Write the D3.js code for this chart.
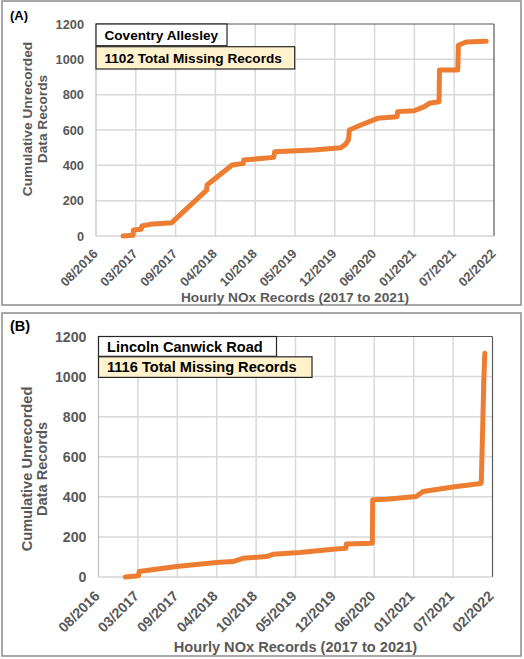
<!DOCTYPE html>
<html><head><meta charset="utf-8">
<script src="https://cdn.jsdelivr.net/npm/d3@7"></script>
<style>body{margin:0;background:#fff}svg{display:block;font-family:"Liberation Sans",Arial,sans-serif}</style>
</head><body><svg id="c" width="524" height="659"></svg>
<script>
// ---- data ----
const tickDates = ["2016-08-18","2017-03-06","2017-09-22","2018-04-10","2018-10-27","2019-05-15","2019-12-01","2020-06-18","2021-01-04","2021-07-23","2022-02-08"];
const yTicks = [0,200,400,600,800,1000,1200];
const xTitle = "Hourly NOx Records (2017 to 2021)";
const yTitleLines = ["Cumulative Unrecorded","Data Records"];

const coventryDates = ["2017-01-01","2017-02-20","2017-02-22","2017-04-03","2017-04-05","2017-05-17","2017-09-03","2017-09-20","2018-02-25","2018-02-27","2018-07-03","2018-08-28","2018-08-30","2019-01-28","2019-02-02","2019-08-18","2019-12-31","2020-01-25","2020-02-08","2020-02-12","2020-04-10","2020-07-03","2020-10-09","2020-10-12","2021-01-03","2021-02-23","2021-03-20","2021-05-08","2021-05-10","2021-08-10","2021-08-13","2021-09-21","2021-12-31"];
const coventryValues = [0,4,34,38,57,66,75,94,260,289,402,410,430,445,477,487,500,520,545,600,628,666,675,704,709,732,751,760,940,940,1080,1098,1102];

const lincolnDates = ["2017-01-01","2017-03-10","2017-03-12","2017-09-18","2018-04-09","2018-07-02","2018-08-20","2018-12-19","2019-01-21","2019-06-06","2019-11-21","2020-01-26","2020-01-28","2020-06-08","2020-06-10","2020-08-18","2021-01-17","2021-02-20","2021-08-09","2021-12-10","2021-12-13","2021-12-20","2021-12-26","2021-12-31"];
const lincolnValues = [0,6,27,52,72,77,93,102,113,122,138,143,165,168,385,388,402,427,452,466,470,735,985,1116];

const panels = [
  {label:"(A)", site:"Coventry Allesley", total:"1102 Total Missing Records", dates:coventryDates, values:coventryValues,
   frame:{x:2,y:1,w:519,h:304}, plot:{l:96,t:24,r:494,b:236},
   fs:{tick:12.8,title:13.7,box:13.6,lab:13}, labPos:[10,19.5],
   box1:{w:131,h:21.7}, box2:{w:198.7,h:22.3,gap:1}, yTitleC:119, yTitleX:[31.8,46.8], xTitleY:301.8, xLab:[2,18.5]},
  {label:"(B)", site:"Lincoln Canwick Road", total:"1116 Total Missing Records", dates:lincolnDates, values:lincolnValues,
   frame:{x:2,y:313,w:519,h:343}, plot:{l:98.5,t:336.5,r:492.5,b:577},
   fs:{tick:14.2,title:14.6,box:14.6,lab:14.5}, labPos:[10,330.5],
   box1:{w:178,h:19.8}, box2:{w:213.5,h:20.6,gap:0.5}, yTitleC:469, yTitleX:[32,47], xTitleY:651.8, xLab:[1.5,20]}
];

const svg = d3.select("#c");
const parse = d3.utcParse("%Y-%m-%d");
const fmt = d3.utcFormat("%m/%Y");
const grey = "#595959", orange = "#ED7D31";

panels.forEach(p => {
  const g = svg.append("g");
  g.append("rect").attr("x",p.frame.x).attr("y",p.frame.y).attr("width",p.frame.w).attr("height",p.frame.h)
    .attr("fill","#fff").attr("stroke","#8c8c8c").attr("stroke-width",1.5);
  const P = p.plot;
  const x = d3.scaleUtc().domain([parse(tickDates[0]), parse(tickDates[tickDates.length-1])]).range([P.l,P.r]);
  const y = d3.scaleLinear().domain([0,1200]).range([P.b,P.t]);

  // gridlines
  g.append("g").selectAll("line").data(tickDates.slice(1,-1)).join("line")
    .attr("x1",d=>x(parse(d))).attr("x2",d=>x(parse(d))).attr("y1",P.t).attr("y2",P.b)
    .attr("stroke","#d9d9d9").attr("stroke-width",1.5);
  g.append("g").selectAll("line").data(yTicks.slice(1,-1)).join("line")
    .attr("x1",P.l).attr("x2",P.r).attr("y1",d=>y(d)).attr("y2",d=>y(d))
    .attr("stroke","#d9d9d9").attr("stroke-width",1.5);
  // plot border
  g.append("line").attr("x1",P.l).attr("x2",P.r).attr("y1",P.t).attr("y2",P.t).attr("stroke","#595959").attr("stroke-width",1.2);
  g.append("line").attr("x1",P.r).attr("x2",P.r).attr("y1",P.t).attr("y2",P.b).attr("stroke","#595959").attr("stroke-width",1.2);
  g.append("line").attr("x1",P.l).attr("x2",P.l).attr("y1",P.t).attr("y2",P.b).attr("stroke","#bfbfbf").attr("stroke-width",1.2);
  g.append("line").attr("x1",P.l).attr("x2",P.r).attr("y1",P.b).attr("y2",P.b).attr("stroke","#bfbfbf").attr("stroke-width",1.2);

  // axes
  const xa = g.append("g").attr("transform",`translate(0,${P.b})`)
    .call(d3.axisBottom(x).tickValues(tickDates.map(parse)).tickFormat(fmt).tickSize(0));
  xa.select(".domain").remove();
  xa.selectAll("text").attr("x",0).attr("y",0).attr("dy",null)
    .attr("transform",`translate(${p.xLab[0]},${p.xLab[1]}) rotate(-45)`)
    .style("text-anchor","end").attr("fill",grey).style("font-size",p.fs.tick+"px").style("font-weight","bold")
    .style("font-family","'Liberation Sans',Arial,sans-serif");
  const ya = g.append("g").attr("transform",`translate(${P.l},0)`)
    .call(d3.axisLeft(y).tickValues(yTicks).tickFormat(d3.format("d")).tickSize(0).tickPadding(12));
  ya.select(".domain").remove();
  ya.selectAll("text").attr("fill",grey).style("font-size",p.fs.tick+"px").style("font-weight","bold")
    .style("font-family","'Liberation Sans',Arial,sans-serif");

  // line
  const pts = p.dates.map((d,i)=>({d:parse(d), v:p.values[i]}));
  g.append("path").datum(pts)
    .attr("d", d3.line().x(d=>x(d.d)).y(d=>y(d.v)))
    .attr("fill","none").attr("stroke",orange).attr("stroke-width",5)
    .attr("stroke-linecap","round").attr("stroke-linejoin","round");

  // titles
  g.append("text").attr("x",(P.l+P.r)/2).attr("y",p.xTitleY).attr("text-anchor","middle")
    .attr("fill",grey).style("font-size",p.fs.title+"px").style("font-weight","bold").text(xTitle);
  yTitleLines.forEach((t,i)=>{
    g.append("text").attr("transform",`translate(${p.yTitleX[i]},${p.yTitleC}) rotate(-90)`)
      .attr("text-anchor","middle").attr("fill",grey).style("font-size",p.fs.title+"px").style("font-weight","bold").text(t);
  });
  g.append("text").attr("x",p.labPos[0]).attr("y",p.labPos[1]).attr("fill","#000")
    .style("font-size",p.fs.lab+"px").style("font-weight","bold").text(p.label);

  // boxes
  const b1y = P.t, b2y = P.t + p.box1.h + p.box2.gap;
  g.append("rect").attr("x",P.l).attr("y",b1y).attr("width",p.box1.w).attr("height",p.box1.h)
    .attr("fill","#fff").attr("stroke","#262626").attr("stroke-width",1.2);
  g.append("text").attr("x",P.l+8.5).attr("y",b1y+p.box1.h/2).attr("dy","0.36em")
    .style("font-size",p.fs.box+"px").style("font-weight","bold").attr("fill","#000").text(p.site);
  g.append("rect").attr("x",P.l).attr("y",b2y).attr("width",p.box2.w).attr("height",p.box2.h)
    .attr("fill","#FFF2CC").attr("stroke","#262626").attr("stroke-width",1.2);
  g.append("text").attr("x",P.l+8.5).attr("y",b2y+p.box2.h/2).attr("dy","0.36em")
    .style("font-size",p.fs.box+"px").style("font-weight","bold").attr("fill","#000").text(p.total);
});
</script></body></html>
